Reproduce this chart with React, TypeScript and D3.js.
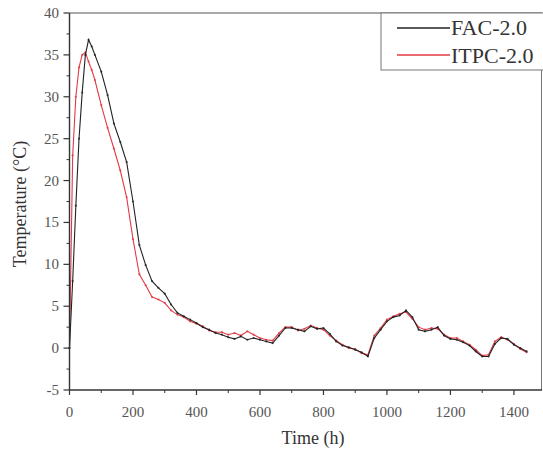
import React from "react";
import * as d3 from "d3";

const times = [0, 10, 20, 30, 40, 50, 60, 70, 80, 100, 120, 140, 160, 180, 200, 220, 240, 260, 280, 300, 320, 340, 360, 380, 400, 420, 440, 460, 480, 500, 520, 540, 560, 580, 600, 620, 640, 660, 680, 700, 720, 740, 760, 780, 800, 820, 840, 860, 880, 900, 920, 940, 960, 980, 1000, 1020, 1040, 1060, 1080, 1100, 1120, 1140, 1160, 1180, 1200, 1220, 1240, 1260, 1280, 1300, 1320, 1340, 1360, 1380, 1400, 1420, 1440];

const facValues = [0, 8, 17, 25, 30.5, 35, 36.8, 36.0, 35.0, 33.0, 30.2, 26.8, 24.6, 22.2, 17.5, 12.3, 9.9, 8.0, 7.2, 6.5, 5.2, 4.2, 3.8, 3.4, 3.0, 2.5, 2.2, 1.8, 1.6, 1.3, 1.1, 1.4, 1.0, 1.2, 1.0, 0.8, 0.6, 1.5, 2.4, 2.4, 2.2, 2.0, 2.6, 2.3, 2.4, 1.7, 0.8, 0.3, 0.1, -0.2, -0.5, -1.0, 1.2, 2.2, 3.2, 3.7, 3.9, 4.5, 3.7, 2.2, 2.0, 2.2, 2.5, 1.5, 1.1, 1.0, 0.7, 0.3, -0.4, -1.0, -1.0, 0.5, 1.2, 1.1, 0.4, 0.0, -0.4];

const itpcValues = [0, 23, 30, 33.5, 35, 35.3, 34.2, 33.2, 32.0, 29.0, 26.3, 23.8, 21.2, 18.0, 13.0, 8.8, 7.5, 6.1, 5.8, 5.4, 4.5, 4.0, 3.7, 3.2, 2.9, 2.6, 2.1, 1.9, 1.9, 1.6, 1.8, 1.5, 2.0, 1.6, 1.2, 1.0, 0.9, 1.8, 2.5, 2.5, 2.1, 2.3, 2.7, 2.4, 2.2, 1.5, 0.9, 0.4, 0.0, -0.1, -0.6, -0.8, 1.5, 2.4, 3.4, 3.8, 4.1, 4.3, 3.5, 2.5, 2.2, 2.4, 2.3, 1.6, 1.2, 1.2, 0.8, 0.4, -0.2, -0.9, -0.8, 0.8, 1.3, 1.0, 0.5, -0.1, -0.5];

const xTicks = [0, 200, 400, 600, 800, 1000, 1200, 1400];
const xMinor = [100, 300, 500, 700, 900, 1100, 1300];
const yTicks = [-5, 0, 5, 10, 15, 20, 25, 30, 35, 40];
const yMinor = [-2.5, 2.5, 7.5, 12.5, 17.5, 22.5, 27.5, 32.5, 37.5];

const seriesNames = ["FAC-2.0", "ITPC-2.0"];
const seriesColors = ["#222222", "#e23a44"];

export default function App() {
  const W = 543, H = 452;
  const x = d3.scaleLinear().domain([0, 1490]).range([69.5, 542.5]);
  const y = d3.scaleLinear().domain([-5, 40]).range([390, 13]);
  const font = "'Liberation Serif', 'Times New Roman', serif";
  const line = d3.line<[number, number]>().x(d => x(d[0])).y(d => y(d[1]));
  const series = [facValues, itpcValues].map(vals => times.map((t, i) => [t, vals[i]] as [number, number]));

  return (
    <svg width={W} height={H} style={{ position: "absolute", left: 0, top: 0, background: "#fff" }} fontFamily={font}>
      <rect x={0} y={0} width={W} height={H} fill="#fff" />
      <line x1={x(0)} x2={542} y1={y(40)} y2={y(40)} stroke="#555" strokeWidth={1.2} />
      <line x1={541.5} x2={541.5} y1={y(40)} y2={y(-5)} stroke="#777" strokeWidth={1} />
      {[1, 0].map(si => (
        <g key={si}>
          <path d={line(series[si]) || ""} fill="none" stroke={seriesColors[si]} strokeWidth={1.1} />
          {series[si].map((d, i) => (
            <circle key={i} cx={x(d[0])} cy={y(d[1])} r={1.1} fill={seriesColors[si]} opacity={0.8} />
          ))}
        </g>
      ))}
      <line x1={x(0)} x2={x(0)} y1={y(40)} y2={y(-5)} stroke="#333" strokeWidth={1.4} />
      <line x1={x(0)} x2={542} y1={y(-5)} y2={y(-5)} stroke="#333" strokeWidth={1.4} />
      {xTicks.map(t => (
        <g key={"xt" + t}>
          <line x1={x(t)} x2={x(t)} y1={y(-5)} y2={y(-5) + 5} stroke="#333" strokeWidth={1.2} />
          <text x={x(t)} y={417} fontSize={15} textAnchor="middle" fill="#555">{t}</text>
        </g>
      ))}
      {xMinor.map(t => (
        <line key={"xm" + t} x1={x(t)} x2={x(t)} y1={y(-5)} y2={y(-5) + 3} stroke="#333" strokeWidth={1} />
      ))}
      {yTicks.map(v => (
        <g key={"yt" + v}>
          <line x1={x(0) - 6} x2={x(0)} y1={y(v)} y2={y(v)} stroke="#333" strokeWidth={1.2} />
          <text x={59} y={y(v) + 5} fontSize={15} textAnchor="end" fill="#555">{v}</text>
        </g>
      ))}
      {yMinor.map(v => (
        <line key={"ym" + v} x1={x(0) - 3} x2={x(0)} y1={y(v)} y2={y(v)} stroke="#333" strokeWidth={1} />
      ))}
      <text x={313} y={444} fontSize={18} textAnchor="middle" fill="#333">Time (h)</text>
      <text transform="translate(26,204) rotate(-90)" fontSize={18} textAnchor="middle" fill="#333">Temperature (°C)</text>
      <rect x={381} y={13} width={170} height={57} fill="#fff" stroke="#777" strokeWidth={1} />
      {seriesNames.map((n, i) => (
        <g key={n}>
          <line x1={397} x2={450} y1={28 + i * 27} y2={28 + i * 27} stroke={seriesColors[i]} strokeWidth={1.3} />
          <text x={451} y={35 + i * 28} fontSize={22} fill="#333">{n}</text>
        </g>
      ))}
    </svg>
  );
}
